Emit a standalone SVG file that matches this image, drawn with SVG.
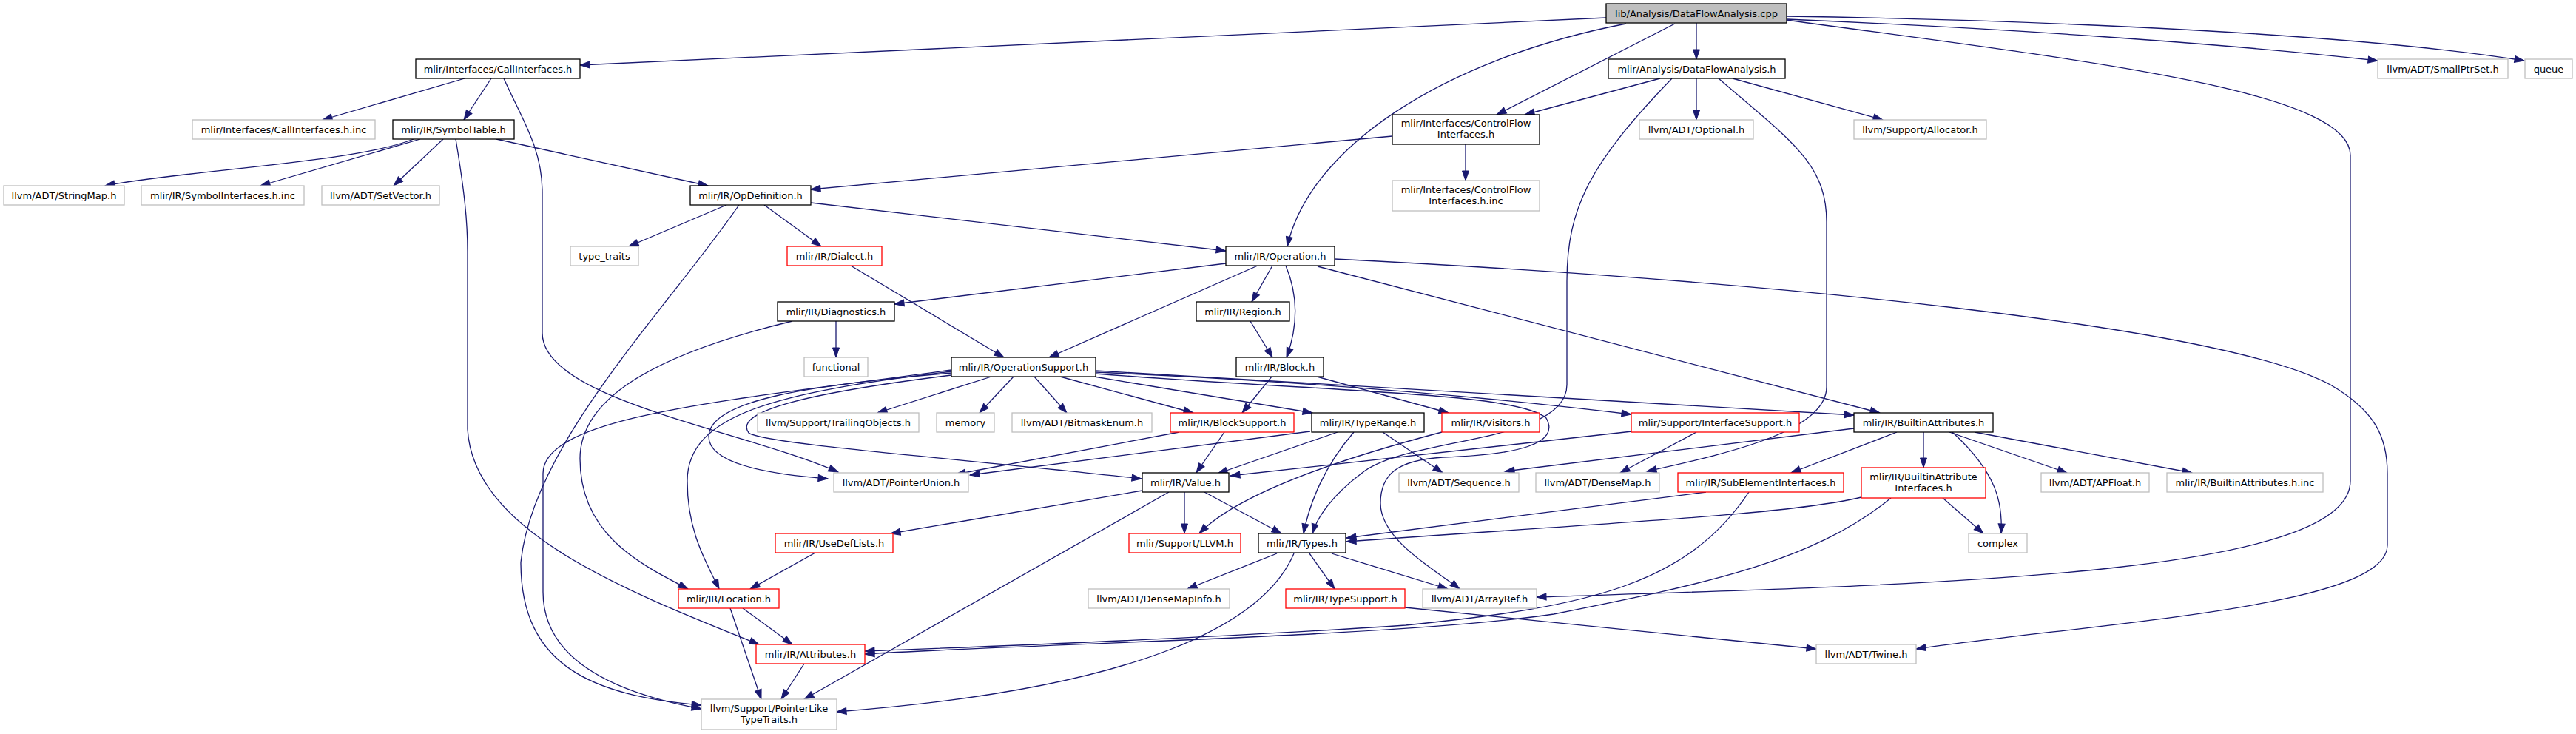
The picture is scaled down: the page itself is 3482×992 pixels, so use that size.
<svg xmlns="http://www.w3.org/2000/svg" width="3482" height="992" viewBox="0 0 3482 992">
<style>
.node rect{fill:#fff;stroke-width:1.3}
.k rect{stroke:#000}
.g rect{stroke:#bfbfbf}
.r rect{stroke:#ff0000}
.node text{font-family:"DejaVu Sans",sans-serif;font-size:13px;text-anchor:middle;fill:#000}
#edges path{fill:none;stroke:#191970;stroke-width:1.3;marker-end:url(#ah)}
</style>
<defs>
<marker id="ah" markerUnits="userSpaceOnUse" markerWidth="14" markerHeight="10" refX="13" refY="4.5" orient="auto" overflow="visible">
<path d="M0,0 L13,4.5 L0,9 Z" fill="#191970" stroke="#191970" stroke-width="1"/>
</marker>
</defs>
<rect width="3482" height="992" fill="#fff"/>
<g id="edges">
<path d="M2171,24 L784,88"/>
<path d="M2198,32 C1950,80 1770,200 1740,333"/>
<path d="M2264,32 L2023,155"/>
<path d="M2293,31 L2293,80"/>
<path d="M2415,26 C2700,38 3000,58 3214,82"/>
<path d="M2415,22 C2800,28 3200,48 3412,82"/>
<path d="M2415,27 C2800,80 3177,120 3177,210 L3177,650 C3177,780 2600,790 2077,807"/>
<path d="M628,106 L436,162"/>
<path d="M664,106 L627,162"/>
<path d="M681,106 C705,160 733,200 733,260 L733,450 C733,540 1000,580 1133,638"/>
<path d="M559,188 C480,220 250,230 142,251"/>
<path d="M568,188 L352,251"/>
<path d="M599,188 L532,251"/>
<path d="M671,188 L957,251"/>
<path d="M616,188 C628,260 632,300 632,340 L632,580 C640,720 850,800 1026,871"/>
<path d="M982,277 L850,333"/>
<path d="M1033,277 L1110,333"/>
<path d="M1096,274 L1657,339"/>
<path d="M999,277 C900,420 720,600 704,760 C704,900 800,940 948,953"/>
<path d="M1150,359 L1357,483"/>
<path d="M1130,434 L1130,483"/>
<path d="M1071,434 C880,480 784,540 784,620 C784,720 860,760 930,796"/>
<path d="M1657,356 L1209,411"/>
<path d="M1700,359 L1418,483"/>
<path d="M1720,359 L1692,408"/>
<path d="M1738,359 C1755,400 1755,440 1739,483"/>
<path d="M1781,360 L2541,558"/>
<path d="M1804,350 C2400,380 3000,440 3150,520 C3210,555 3227,590 3227,640 L3227,737 C3227,820 2850,840 2590,877"/>
<path d="M1690,434 L1720,483"/>
<path d="M1719,509 L1679,558"/>
<path d="M1780,509 L1958,558"/>
<path d="M2244,106 L2061,155"/>
<path d="M2293,106 L2293,162"/>
<path d="M2342,106 L2545,162"/>
<path d="M2260,106 C2150,220 2118,280 2118,380 L2118,520 C2118,600 1900,590 1840,640 C1800,670 1780,700 1774,721"/>
<path d="M2323,106 C2420,190 2469,220 2469,300 L2469,523 C2469,580 2350,610 2226,637"/>
<path d="M1981,195 L1981,244"/>
<path d="M1882,184 L1096,256"/>
<path d="M1340,509 L1186,558"/>
<path d="M1370,509 L1324,558"/>
<path d="M1398,509 L1442,558"/>
<path d="M1433,509 L1613,558"/>
<path d="M1479,509 L1774,558"/>
<path d="M1481,503 C1750,515 2000,535 2205,560"/>
<path d="M1481,501 L2506,561"/>
<path d="M1481,505 C1800,530 2050,530 2090,565 C2110,600 2050,615 1950,618 C1890,622 1866,640 1866,680 C1866,730 1940,770 1973,796"/>
<path d="M1286,504 C1100,520 958,540 958,590 C958,625 1030,640 1119,647"/>
<path d="M1286,507 C1100,530 990,555 1012,585 C1030,600 1300,620 1543,647"/>
<path d="M1286,502 C1050,530 929,560 929,650 C929,720 955,760 972,796"/>
<path d="M1286,500 C1000,540 734,560 734,640 L734,800 C734,900 850,940 948,958"/>
<path d="M1544,663 L1204,721"/>
<path d="M1601,665 L1601,721"/>
<path d="M1628,665 L1732,721"/>
<path d="M1580,665 L1087,945"/>
<path d="M1771,583 L1311,642"/>
<path d="M1808,584 L1646,640"/>
<path d="M1830,584 C1790,630 1770,680 1762,721"/>
<path d="M1869,584 L1950,639"/>
<path d="M1594,584 L1292,641"/>
<path d="M1655,584 L1617,639"/>
<path d="M1949,584 C1850,610 1680,660 1621,721"/>
<path d="M2206,583 L1663,643"/>
<path d="M2293,584 L2190,639"/>
<path d="M2506,579 L2034,637"/>
<path d="M2564,584 L2421,639"/>
<path d="M2600,584 L2600,632"/>
<path d="M2639,584 C2700,640 2707,680 2705,721"/>
<path d="M2635,584 L2794,639"/>
<path d="M2669,584 L2963,639"/>
<path d="M2306,665 L1820,727"/>
<path d="M2364,665 C2280,790 2150,820 1900,845 C1600,865 1300,875 1169,880"/>
<path d="M2516,672 C2420,695 2200,705 1820,732"/>
<path d="M2556,673 C2450,760 2300,790 2100,830 C1900,860 1400,870 1169,884"/>
<path d="M2626,673 L2681,721"/>
<path d="M1726,748 L1605,796"/>
<path d="M1770,748 L1804,796"/>
<path d="M1800,748 L1957,796"/>
<path d="M1749,748 C1710,840 1550,930 1131,962"/>
<path d="M1102,747 L1014,796"/>
<path d="M1004,822 L1071,871"/>
<path d="M987,822 L1029,945"/>
<path d="M1087,897 L1056,945"/>
<path d="M1899,821 L2455,877"/>
</g>
<g id="n_cpp" class="node k"><rect x="2171" y="5" width="244" height="26" style="fill:#bfbfbf"/><text x="2293" y="22.5">lib/Analysis/DataFlowAnalysis.cpp</text></g>
<g id="n_callif" class="node k"><rect x="562" y="80" width="222" height="26"/><text x="673" y="97.5">mlir/Interfaces/CallInterfaces.h</text></g>
<g id="n_dfa" class="node k"><rect x="2174" y="80" width="239" height="26"/><text x="2293.5" y="97.5">mlir/Analysis/DataFlowAnalysis.h</text></g>
<g id="n_smallptrset" class="node g"><rect x="3214" y="80" width="176" height="26"/><text x="3302" y="97.5">llvm/ADT/SmallPtrSet.h</text></g>
<g id="n_queue" class="node g"><rect x="3413" y="80" width="64" height="26"/><text x="3445" y="97.5">queue</text></g>
<g id="n_callifinc" class="node g"><rect x="260" y="162" width="247" height="26"/><text x="383.5" y="179.5">mlir/Interfaces/CallInterfaces.h.inc</text></g>
<g id="n_symtab" class="node k"><rect x="531" y="162" width="164" height="26"/><text x="613" y="179.5">mlir/IR/SymbolTable.h</text></g>
<g id="n_cfi" class="node k"><rect x="1882" y="155" width="199" height="40"/><text x="1981.5" y="171">mlir/Interfaces/ControlFlow</text><text x="1981.5" y="186">Interfaces.h</text></g>
<g id="n_optional" class="node g"><rect x="2216" y="162" width="154" height="26"/><text x="2293" y="179.5">llvm/ADT/Optional.h</text></g>
<g id="n_allocator" class="node g"><rect x="2506" y="162" width="179" height="26"/><text x="2595.5" y="179.5">llvm/Support/Allocator.h</text></g>
<g id="n_stringmap" class="node g"><rect x="5" y="251" width="163" height="26"/><text x="86.5" y="268.5">llvm/ADT/StringMap.h</text></g>
<g id="n_symifinc" class="node g"><rect x="191" y="251" width="220" height="26"/><text x="301" y="268.5">mlir/IR/SymbolInterfaces.h.inc</text></g>
<g id="n_setvector" class="node g"><rect x="435" y="251" width="159" height="26"/><text x="514.5" y="268.5">llvm/ADT/SetVector.h</text></g>
<g id="n_opdef" class="node k"><rect x="933" y="251" width="163" height="26"/><text x="1014.5" y="268.5">mlir/IR/OpDefinition.h</text></g>
<g id="n_cfiinc" class="node g"><rect x="1882" y="244" width="199" height="41"/><text x="1981.5" y="261">mlir/Interfaces/ControlFlow</text><text x="1981.5" y="276">Interfaces.h.inc</text></g>
<g id="n_typetraits" class="node g"><rect x="771" y="333" width="92" height="26"/><text x="817" y="350.5">type_traits</text></g>
<g id="n_dialect" class="node r"><rect x="1064" y="333" width="128" height="26"/><text x="1128" y="350.5">mlir/IR/Dialect.h</text></g>
<g id="n_operation" class="node k"><rect x="1657" y="333" width="147" height="26"/><text x="1730.5" y="350.5">mlir/IR/Operation.h</text></g>
<g id="n_diag" class="node k"><rect x="1051" y="408" width="158" height="26"/><text x="1130" y="425.5">mlir/IR/Diagnostics.h</text></g>
<g id="n_region" class="node k"><rect x="1617" y="408" width="126" height="26"/><text x="1680" y="425.5">mlir/IR/Region.h</text></g>
<g id="n_functional" class="node g"><rect x="1087" y="483" width="86" height="26"/><text x="1130" y="500.5">functional</text></g>
<g id="n_opsupport" class="node k"><rect x="1286" y="483" width="195" height="26"/><text x="1383.5" y="500.5">mlir/IR/OperationSupport.h</text></g>
<g id="n_block" class="node k"><rect x="1671" y="483" width="118" height="26"/><text x="1730" y="500.5">mlir/IR/Block.h</text></g>
<g id="n_trailing" class="node g"><rect x="1024" y="558" width="218" height="26"/><text x="1133" y="575.5">llvm/Support/TrailingObjects.h</text></g>
<g id="n_memory" class="node g"><rect x="1266" y="558" width="78" height="26"/><text x="1305" y="575.5">memory</text></g>
<g id="n_bitmask" class="node g"><rect x="1368" y="558" width="189" height="26"/><text x="1462.5" y="575.5">llvm/ADT/BitmaskEnum.h</text></g>
<g id="n_blocksupport" class="node r"><rect x="1582" y="558" width="167" height="26"/><text x="1665.5" y="575.5">mlir/IR/BlockSupport.h</text></g>
<g id="n_typerange" class="node k"><rect x="1773" y="558" width="152" height="26"/><text x="1849" y="575.5">mlir/IR/TypeRange.h</text></g>
<g id="n_visitors" class="node r"><rect x="1949" y="558" width="132" height="26"/><text x="2015" y="575.5">mlir/IR/Visitors.h</text></g>
<g id="n_ifsupport" class="node r"><rect x="2205" y="558" width="227" height="26"/><text x="2318.5" y="575.5">mlir/Support/InterfaceSupport.h</text></g>
<g id="n_builtinattrs" class="node k"><rect x="2506" y="558" width="188" height="26"/><text x="2600" y="575.5">mlir/IR/BuiltinAttributes.h</text></g>
<g id="n_pointerunion" class="node g"><rect x="1127" y="639" width="182" height="26"/><text x="1218" y="656.5">llvm/ADT/PointerUnion.h</text></g>
<g id="n_value" class="node k"><rect x="1544" y="639" width="117" height="26"/><text x="1602.5" y="656.5">mlir/IR/Value.h</text></g>
<g id="n_sequence" class="node g"><rect x="1891" y="639" width="162" height="26"/><text x="1972" y="656.5">llvm/ADT/Sequence.h</text></g>
<g id="n_densemap" class="node g"><rect x="2076" y="639" width="167" height="26"/><text x="2159.5" y="656.5">llvm/ADT/DenseMap.h</text></g>
<g id="n_subelem" class="node r"><rect x="2268" y="639" width="224" height="26"/><text x="2380" y="656.5">mlir/IR/SubElementInterfaces.h</text></g>
<g id="n_bai" class="node r"><rect x="2516" y="632" width="168" height="41"/><text x="2600" y="648.5">mlir/IR/BuiltinAttribute</text><text x="2600" y="663.5">Interfaces.h</text></g>
<g id="n_apfloat" class="node g"><rect x="2759" y="639" width="146" height="26"/><text x="2832" y="656.5">llvm/ADT/APFloat.h</text></g>
<g id="n_bainc" class="node g"><rect x="2929" y="639" width="211" height="26"/><text x="3034.5" y="656.5">mlir/IR/BuiltinAttributes.h.inc</text></g>
<g id="n_usedef" class="node r"><rect x="1048" y="721" width="159" height="26"/><text x="1127.5" y="738.5">mlir/IR/UseDefLists.h</text></g>
<g id="n_llvm" class="node r"><rect x="1526" y="721" width="151" height="26"/><text x="1601.5" y="738.5">mlir/Support/LLVM.h</text></g>
<g id="n_types" class="node k"><rect x="1701" y="721" width="118" height="26"/><text x="1760" y="738.5">mlir/IR/Types.h</text></g>
<g id="n_complex" class="node g"><rect x="2661" y="721" width="79" height="26"/><text x="2700.5" y="738.5">complex</text></g>
<g id="n_location" class="node r"><rect x="917" y="796" width="136" height="26"/><text x="985" y="813.5">mlir/IR/Location.h</text></g>
<g id="n_densemapinfo" class="node g"><rect x="1471" y="796" width="191" height="26"/><text x="1566.5" y="813.5">llvm/ADT/DenseMapInfo.h</text></g>
<g id="n_typesupport" class="node r"><rect x="1738" y="796" width="161" height="26"/><text x="1818.5" y="813.5">mlir/IR/TypeSupport.h</text></g>
<g id="n_arrayref" class="node g"><rect x="1923" y="796" width="154" height="26"/><text x="2000" y="813.5">llvm/ADT/ArrayRef.h</text></g>
<g id="n_attributes" class="node r"><rect x="1022" y="871" width="147" height="26"/><text x="1095.5" y="888.5">mlir/IR/Attributes.h</text></g>
<g id="n_twine" class="node g"><rect x="2455" y="871" width="135" height="26"/><text x="2522.5" y="888.5">llvm/ADT/Twine.h</text></g>
<g id="n_pltt" class="node g"><rect x="948" y="945" width="183" height="41"/><text x="1039.5" y="962">llvm/Support/PointerLike</text><text x="1039.5" y="977">TypeTraits.h</text></g>
</svg>
